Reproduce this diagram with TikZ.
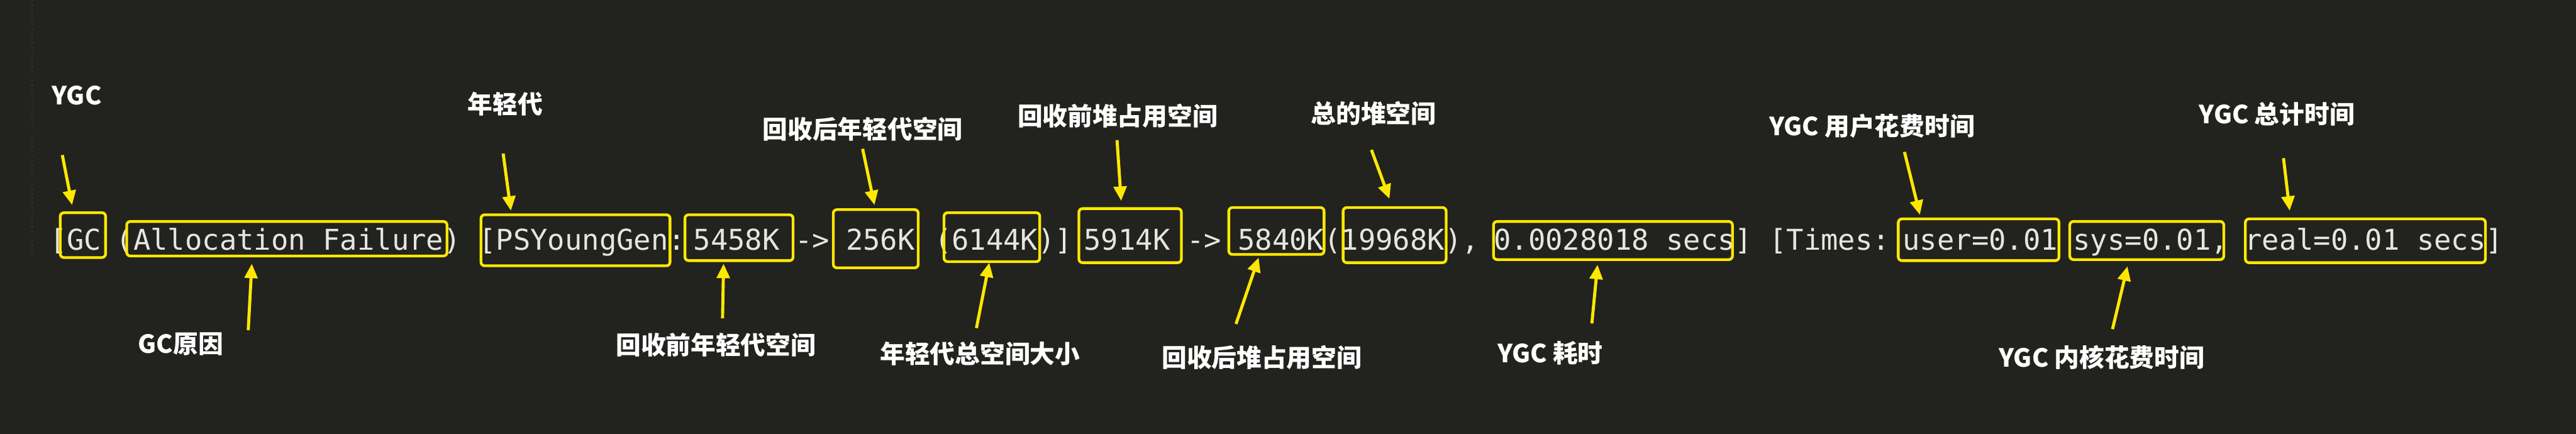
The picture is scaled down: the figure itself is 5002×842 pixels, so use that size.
\documentclass[tikz,border=0pt]{standalone}
\usepackage{fontspec}
\newfontfamily\codefont{DejaVu Sans Mono}
\newfontfamily\cjk{Noto Sans CJK SC}
\usetikzlibrary{arrows.meta,fit}
\definecolor{bg}{RGB}{34,34,31}
\definecolor{hl}{RGB}{255,232,0}
\definecolor{codefg}{RGB}{230,230,222}
\definecolor{guide}{RGB}{58,58,54}
\tikzset{
  code/.style={anchor=base west, inner sep=0pt, text=codefg, font=\codefont\fontsize{15.8}{18}\selectfont},
  hlbox/.style={draw=hl, line width=1.5pt, rounded corners=2pt, inner sep=0pt},
  lbl/.style={text=white, inner sep=0pt, font=\cjk\bfseries\fontsize{13.8}{16}\selectfont},
  ptr/.style={draw=hl, line width=1.7pt, -{Triangle[length=0.28cm,width=0.25cm]}},
}
\begin{document}
\begin{tikzpicture}[x=0.01cm,y=-0.01cm]
\useasboundingbox (0,0) rectangle (5002,842);
\fill[bg] (0,0) rectangle (5002,842);
\draw[guide, dotted, line width=0.6pt] (62,0) -- (62,494);

% code line
\node[code] (t1) at (96,485) {[GC};
\node[code] (t2) at (225,485) {(Allocation Failure)};
\node[code] (t3) at (929,485) {[PSYoungGen:};
\node[code] (t4) at (1346,485) {5458K};
\node[code] (t5) at (1543,485) {->};
\node[code] (t6) at (1642,485) {256K};
\node[code] (t7) at (1814,485) {(6144K)]};
\node[code] (t8) at (2104,485) {5914K};
\node[code] (t9) at (2304,485) {->};
\node[code] (t10) at (2403,485) {5840K(19968K),};
\node[code] (t11) at (2900,485) {0.0028018 secs]};
\node[code] (t12) at (3435,485) {[Times:};
\node[code] (t13) at (3694,485) {user=0.01};
\node[code] (t14) at (4025,485) {sys=0.01,};
\node[code] (t15) at (4358,485) {real=0.01 secs]};

% highlight boxes
\node[hlbox, fit={(117,413) (205,500)}] (bGC) {};
\node[hlbox, fit={(246,430) (868,497)}] (bAlloc) {};
\node[hlbox, fit={(934,417) (1301,516)}] (bYoung) {};
\node[hlbox, fit={(1330,417) (1540,506)}] (bYB) {};
\node[hlbox, fit={(1618,407) (1783,520)}] (bYA) {};
\node[hlbox, fit={(1833,413) (2019,508)}] (bYT) {};
\node[hlbox, fit={(2095,405) (2294,510)}] (bHB) {};
\node[hlbox, fit={(2386,403) (2571,494)}] (bHA) {};
\node[hlbox, fit={(2608,403) (2808,510)}] (bHT) {};
\node[hlbox, fit={(2900,430) (3364,504)}] (bTime) {};
\node[hlbox, fit={(3686,425) (3998,506)}] (bUser) {};
\node[hlbox, fit={(4019,430) (4318,504)}] (bSys) {};
\node[hlbox, fit={(4360,425) (4826,510)}] (bReal) {};

% labels
\node[lbl] (lYGC) at (149,185) {YGC};
\node[lbl] (lYoung) at (981,202) {年轻代};
\node[lbl] (lYA) at (1675,251) {回收后年轻代空间};
\node[lbl] (lHB) at (2170,225) {回收前堆占用空间};
\node[lbl] (lHT) at (2667,220) {总的堆空间};
\node[lbl] (lUser) at (3635,245) {YGC 用户花费时间};
\node[lbl] (lReal) at (4421,222) {YGC 总计时间};
\node[lbl] (lCause) at (351,668) {GC原因};
\node[lbl] (lYB) at (1390,669) {回收前年轻代空间};
\node[lbl] (lYT) at (1903,686) {年轻代总空间大小};
\node[lbl] (lHA) at (2450,694) {回收后堆占用空间};
\node[lbl] (lTime) at (3010,686) {YGC 耗时};
\node[lbl] (lSys) at (4081,694) {YGC 内核花费时间};

% arrow ends
\coordinate (s1) at (121,301);  \coordinate (e1) at (140,398);
\coordinate (s2) at (482,641);  \coordinate (e2) at (489,512);
\coordinate (s3) at (977,298);  \coordinate (e3) at (992,409);
\coordinate (s4) at (1403,618); \coordinate (e4) at (1405,512);
\coordinate (s5) at (1675,289); \coordinate (e5) at (1698,398);
\coordinate (s6) at (1896,637); \coordinate (e6) at (1921,510);
\coordinate (s7) at (2169,272); \coordinate (e7) at (2177,390);
\coordinate (s8) at (2663,291); \coordinate (e8) at (2698,386);
\coordinate (s9) at (2400,629); \coordinate (e9) at (2444,500);
\coordinate (s10) at (3091,628); \coordinate (e10) at (3102,514);
\coordinate (s11) at (3698,295); \coordinate (e11) at (3728,417);
\coordinate (s12) at (4434,307); \coordinate (e12) at (4446,409);
\coordinate (s13) at (4102,639); \coordinate (e13) at (4131,517);

\draw[ptr] (s1) -- (e1);
\draw[ptr] (s2) -- (e2);
\draw[ptr] (s3) -- (e3);
\draw[ptr] (s4) -- (e4);
\draw[ptr] (s5) -- (e5);
\draw[ptr] (s6) -- (e6);
\draw[ptr] (s7) -- (e7);
\draw[ptr] (s8) -- (e8);
\draw[ptr] (s9) -- (e9);
\draw[ptr] (s10) -- (e10);
\draw[ptr] (s11) -- (e11);
\draw[ptr] (s12) -- (e12);
\draw[ptr] (s13) -- (e13);
\end{tikzpicture}
\end{document}
